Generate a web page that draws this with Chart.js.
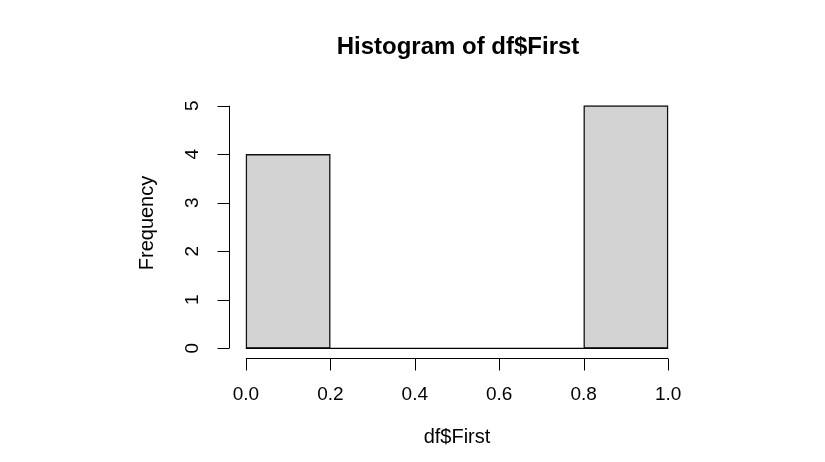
<!DOCTYPE html>
<html>
<head>
<meta charset="utf-8">
<script src="https://cdn.jsdelivr.net/npm/chart.js@4/dist/chart.umd.min.js"></script>
<style>
  body { margin: 0; background: #fff; }
  #wrap { width: 825px; height: 462px; }
</style>
</head>
<body>
<div id="wrap"><canvas id="hist"></canvas></div>
<script>
// Datos del histograma (df$First)
const binEdges = [0, 0.2, 0.4, 0.6, 0.8, 1.0];
const counts = [4, 0, 0, 0, 5];
const xTicks = [0, 0.2, 0.4, 0.6, 0.8, 1.0];
const yTicks = [0, 1, 2, 3, 4, 5];

const titulo = 'Histogram of df$First';
const xTitulo = 'df$First';
const yTitulo = 'Frequency';

const fuente = '"Liberation Sans", Arial, sans-serif';

// barras centradas en cada intervalo
const barras = counts.map((c, i) => ({ x: (binEdges[i] + binEdges[i + 1]) / 2, y: c }));
// linea base para los intervalos vacios
const base = binEdges.map(e => ({ x: e, y: 0 }));

// ejes al estilo R (dibujados a mano sobre las escalas)
const ejesR = {
  id: 'ejesR',
  afterDraw(chart) {
    const { ctx, chartArea, scales: { x, y } } = chart;
    ctx.save();
    ctx.strokeStyle = '#000';
    ctx.fillStyle = '#000';
    ctx.lineWidth = 1;

    // eje x
    const ay = Math.round(chartArea.bottom) + 0.5;
    ctx.beginPath();
    ctx.moveTo(x.getPixelForValue(xTicks[0]), ay);
    ctx.lineTo(x.getPixelForValue(xTicks[xTicks.length - 1]), ay);
    xTicks.forEach(v => {
      const px = Math.round(x.getPixelForValue(v)) + 0.5;
      ctx.moveTo(px, ay);
      ctx.lineTo(px, ay + 12);
    });
    ctx.stroke();
    ctx.font = '19px ' + fuente;
    ctx.textAlign = 'center';
    ctx.textBaseline = 'middle';
    xTicks.forEach(v => ctx.fillText(v.toFixed(1), x.getPixelForValue(v), 395));

    // eje y
    const ax = Math.round(chartArea.left) + 0.5;
    ctx.beginPath();
    ctx.moveTo(ax, y.getPixelForValue(yTicks[0]));
    ctx.lineTo(ax, y.getPixelForValue(yTicks[yTicks.length - 1]));
    yTicks.forEach(v => {
      const py = Math.round(y.getPixelForValue(v)) + 0.5;
      ctx.moveTo(ax, py);
      ctx.lineTo(ax - 12, py);
    });
    ctx.stroke();
    yTicks.forEach(v => {
      ctx.save();
      ctx.translate(193, y.getPixelForValue(v));
      ctx.rotate(-Math.PI / 2);
      ctx.fillText(String(v), 0, 0);
      ctx.restore();
    });

    // titulos
    ctx.font = '20px ' + fuente;
    ctx.fillText(xTitulo, 457, 437);
    ctx.save();
    ctx.translate(147, 223);
    ctx.rotate(-Math.PI / 2);
    ctx.fillText(yTitulo, 0, 0);
    ctx.restore();

    ctx.font = 'bold 24px ' + fuente;
    ctx.fillText(titulo, 458, 47);
    ctx.restore();
  }
};

const canvas = document.getElementById('hist');

const grafico = new Chart(canvas, {
  type: 'bar',
  data: {
    datasets: [{
      type: 'line',
      data: base,
      borderColor: '#000',
      borderWidth: 1.2,
      pointRadius: 0,
      fill: false
    }, {
      data: barras,
      backgroundColor: '#D3D3D3',
      borderColor: '#111',
      borderWidth: 1.5,
      borderSkipped: false,
      barPercentage: 1,
      categoryPercentage: 1
    }]
  },
  options: {
    responsive: true,
    maintainAspectRatio: false,
    animation: false,
    layout: { padding: { left: 229, right: 140, top: 96, bottom: 104 } },
    scales: {
      x: {
        type: 'linear',
        offset: false,
        min: -0.04,
        max: 1.04,
        display: false,
        afterBuildTicks: s => { s.ticks = xTicks.map(v => ({ value: v })); }
      },
      y: {
        min: -0.2,
        max: 5.2,
        display: false,
        afterBuildTicks: s => { s.ticks = yTicks.map(v => ({ value: v })); }
      }
    },
    plugins: {
      legend: { display: false },
      tooltip: { enabled: false }
    }
  },
  plugins: [ejesR]
});
</script>
</body>
</html>
